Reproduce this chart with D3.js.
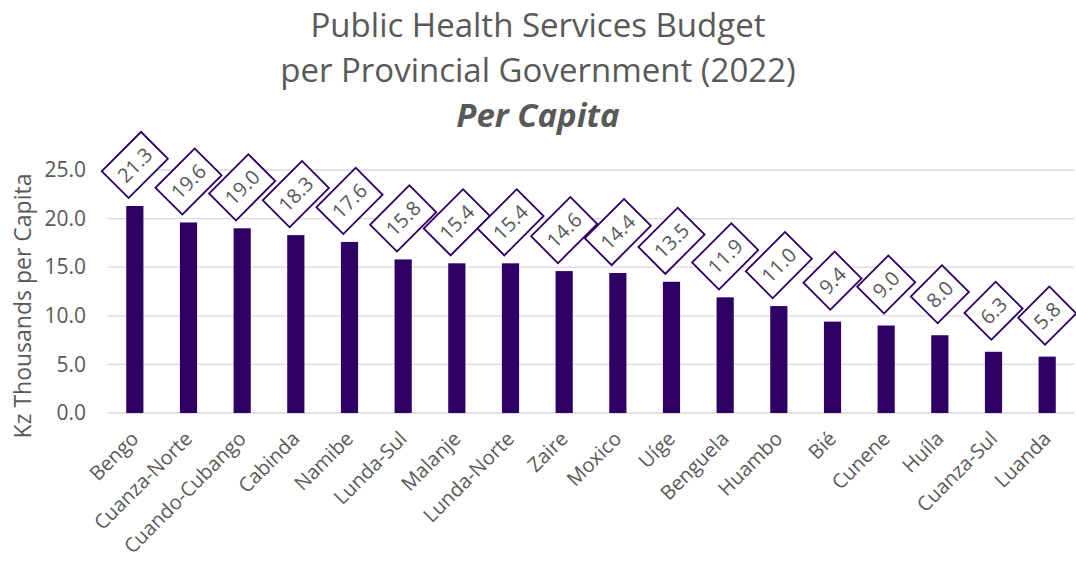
<!DOCTYPE html>
<html><head><meta charset="utf-8">
<script src="https://cdn.jsdelivr.net/npm/d3@7/dist/d3.min.js"></script>
<style>body{margin:0;background:#fff;} svg{display:block;font-family:"Open Sans", sans-serif;}</style>
</head><body>
<svg id="chart" width="1076" height="561"></svg>
<script>
const categories = ["Bengo","Cuanza-Norte","Cuando-Cubango","Cabinda","Namibe","Lunda-Sul","Malanje","Lunda-Norte","Zaire","Moxico","Uíge","Benguela","Huambo","Bié","Cunene","Huíla","Cuanza-Sul","Luanda"];
const values = [21.3,19.6,19.0,18.3,17.6,15.8,15.4,15.4,14.6,14.4,13.5,11.9,11.0,9.4,9.0,8.0,6.3,5.8];
const yTicks = [0,5,10,15,20,25];
const titleLines = ["Public Health Services Budget","per Provincial Government (2022)"];
const subtitle = "Per Capita";
const yLabel = "Kz Thousands per Capita";

const svg = d3.select("#chart");
const color = "#2e0066", textColor = "#595959";
const x = d3.scaleBand().domain(categories).range([108, 1074]).paddingInner(0.68).paddingOuter(0.34);
const y = d3.scaleLinear().domain([0, 25]).range([413, 170]);

// gridlines
svg.append("g").selectAll("line").data(yTicks).join("line")
  .attr("x1", 108).attr("x2", 1074)
  .attr("y1", d => y(d)).attr("y2", d => y(d))
  .attr("stroke", "#d9d9d9").attr("stroke-width", 1.3);

// y axis
const yAxis = svg.append("g").attr("transform", "translate(108,0)")
  .call(d3.axisLeft(y).tickValues(yTicks).tickFormat(d3.format(".1f")).tickSize(0).tickPadding(22));
yAxis.select(".domain").remove();
yAxis.selectAll("text").attr("font-size", 21).attr("fill", textColor).attr("font-family", "Open Sans");

// bars
svg.append("g").selectAll("rect").data(values).join("rect")
  .attr("x", (d,i) => x(categories[i])).attr("width", x.bandwidth())
  .attr("y", d => y(d)).attr("height", d => y(0) - y(d))
  .attr("fill", color);

// x labels
svg.append("g").selectAll("text").data(categories).join("text")
  .attr("transform", d => `translate(${x(d) + x.bandwidth()/2 + 5},440) rotate(-45)`)
  .attr("text-anchor", "end").attr("font-size", 20).attr("fill", textColor)
  .text(d => d);

// data labels in diamonds
const lg = svg.append("g").selectAll("g").data(values).join("g")
  .attr("transform", (d,i) => `translate(${x(categories[i]) + x.bandwidth()/2},${y(d) - 41}) rotate(-45)`);
const lt = lg.append("text").attr("text-anchor", "middle").attr("dy", "0.36em")
  .attr("font-size", 20).attr("fill", textColor).text(d => d3.format(".1f")(d));
lt.each(function() {
  const w = this.getComputedTextLength() + 16;
  d3.select(this.parentNode).insert("rect", "text")
    .attr("x", -w/2).attr("y", -19).attr("width", w).attr("height", 38)
    .attr("fill", "#fff").attr("stroke", color).attr("stroke-width", 1.8);
});

// titles
svg.append("g").selectAll("text").data(titleLines).join("text")
  .attr("x", 538).attr("y", (d,i) => 37 + i*45)
  .attr("text-anchor", "middle").attr("font-size", 33).attr("fill", textColor).text(d => d);
svg.append("text").attr("x", 538).attr("y", 127).attr("text-anchor", "middle")
  .attr("font-size", 33).attr("font-weight", "bold").attr("font-style", "italic")
  .attr("fill", textColor).text(subtitle);

// y label
svg.append("text").attr("transform", "translate(31,306) rotate(-90)")
  .attr("text-anchor", "middle").attr("font-size", 23).attr("fill", textColor).text(yLabel);
</script>
</body></html>
